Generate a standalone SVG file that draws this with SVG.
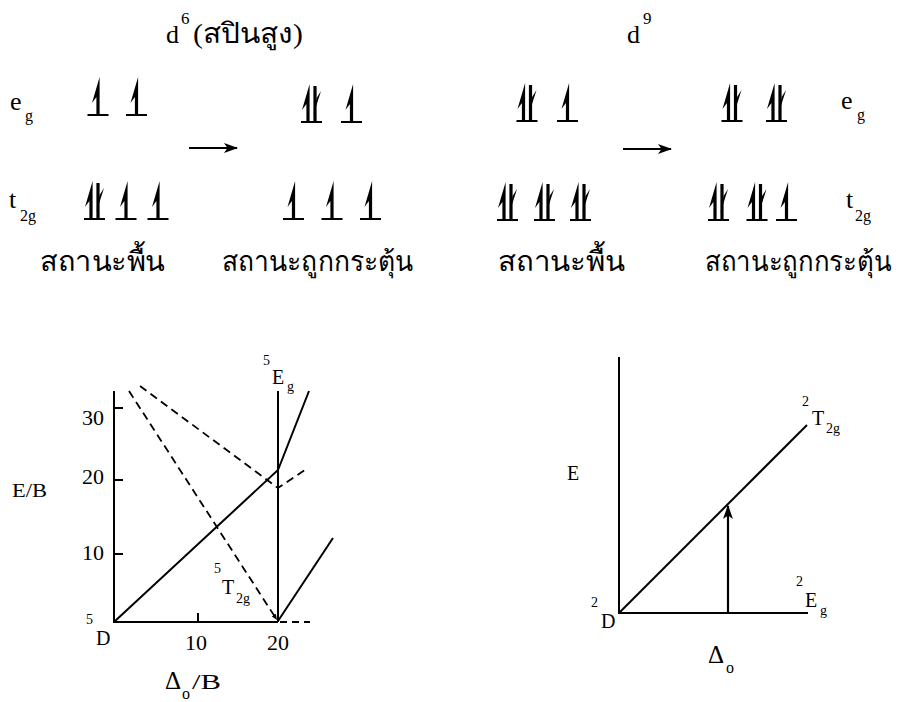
<svg xmlns="http://www.w3.org/2000/svg" width="902" height="702" viewBox="0 0 902 702" font-family="Liberation Serif, serif">
<style>
.th{font-size:28px}
.lab{font-size:20px}
.big{font-size:26px}
.sup{font-size:14px}
.sub{font-size:16px}
.ln{stroke:#000;stroke-width:2;fill:none}
.dash{stroke:#000;stroke-width:1.8;fill:none;stroke-dasharray:8,5}
.orb{stroke:#000;stroke-width:2}
</style>
<defs>
<polygon id="up" points="1.6,0 1.6,-38 -6,-12 -1.6,-18 -1.6,0"/>
<g id="dn">
<rect x="-1.6" y="-36" width="3.2" height="36"/>
<polygon points="-1.6,-7 6,-31 1.6,-24"/>
</g>
<g id="s"><line class="orb" x1="-10.5" y1="0" x2="10.5" y2="0"/><use href="#up"/></g>
<g id="p"><line class="orb" x1="-10.5" y1="0" x2="10.5" y2="0"/><use href="#up" x="-3.5"/><use href="#dn" x="3.5"/></g>
<marker id="ah" viewBox="0 0 14 10" refX="13" refY="5" markerWidth="14" markerHeight="10" markerUnits="userSpaceOnUse" orient="auto">
<path d="M0,0 L14,5 L0,10 L3.5,5 Z" fill="#000"/>
</marker>
<marker id="ahs" viewBox="0 0 10 8" refX="10" refY="4" markerWidth="6" markerHeight="5" markerUnits="userSpaceOnUse" orient="auto">
<path d="M0,0 L10,4 L0,8 Z" fill="#000"/>
</marker>
</defs>

<g id="title-d6" font-family="Liberation Serif, serif">
<text class="big" x="166" y="43">d</text>
<text x="181" y="24" font-size="17">6</text>
<text class="th" x="193" y="43" font-size="26" textLength="110" lengthAdjust="spacingAndGlyphs">(สปินสูง)</text>
</g>
<g id="title-d9" font-family="Liberation Serif, serif">
<text class="big" x="627" y="43">d</text>
<text x="643" y="24" font-size="17">9</text>
</g>

<g id="label-eg-left" font-family="Liberation Serif, serif"><text class="big" x="10" y="110" font-size="28">e</text><text class="sub" x="25" y="121">g</text></g>
<g id="label-t2g-left" font-family="Liberation Serif, serif"><text class="big" x="9" y="208" font-size="28">t</text><text class="sub" x="20" y="221">2g</text></g>
<g id="label-eg-right" font-family="Liberation Serif, serif"><text class="big" x="841" y="109" font-size="28">e</text><text class="sub" x="857" y="120">g</text></g>
<g id="label-t2g-right" font-family="Liberation Serif, serif"><text class="big" x="846" y="208" font-size="28">t</text><text class="sub" x="855" y="221">2g</text></g>

<g id="d6-ground">
<use href="#s" x="98" y="115"/>
<use href="#s" x="136.5" y="115"/>
<use href="#p" x="94.5" y="219"/>
<use href="#s" x="126" y="219"/>
<use href="#s" x="158" y="219"/>
</g>
<g id="d6-excited">
<use href="#p" x="311.5" y="122"/>
<use href="#s" x="351.5" y="122"/>
<use href="#s" x="293.5" y="219"/>
<use href="#s" x="332" y="219"/>
<use href="#s" x="370.5" y="219"/>
</g>
<g id="d9-ground">
<use href="#p" x="527" y="121"/>
<use href="#s" x="567.5" y="121"/>
<use href="#p" x="507.5" y="220"/>
<use href="#p" x="544.5" y="220"/>
<use href="#p" x="580.5" y="220"/>
</g>
<g id="d9-excited">
<use href="#p" x="732" y="121"/>
<use href="#p" x="776.5" y="121"/>
<use href="#p" x="718.5" y="220"/>
<use href="#p" x="757" y="220"/>
<use href="#s" x="786.5" y="220"/>
</g>

<g id="state-labels" font-family="Liberation Serif, serif">
<text class="th" x="40" y="271" textLength="125" lengthAdjust="spacingAndGlyphs">สถานะพื้น</text>
<text class="th" x="222" y="271" textLength="191" lengthAdjust="spacingAndGlyphs">สถานะถูกกระตุ้น</text>
<text class="th" x="498" y="271" textLength="127" lengthAdjust="spacingAndGlyphs">สถานะพื้น</text>
<text class="th" x="705" y="271" textLength="186" lengthAdjust="spacingAndGlyphs">สถานะถูกกระตุ้น</text>
</g>

<g id="graph-left" font-family="Liberation Serif, serif">
<line class="ln" x1="114" y1="391" x2="114" y2="622"/>
<line class="ln" x1="113" y1="622" x2="278" y2="622"/>
<line class="dash" x1="280" y1="622" x2="310" y2="622" style="stroke-dasharray:7,5"/>
<line class="ln" x1="278" y1="391" x2="278" y2="622"/>
<line class="ln" x1="114" y1="408" x2="123" y2="408"/>
<line class="ln" x1="114" y1="480" x2="123" y2="480"/>
<line class="ln" x1="114" y1="554" x2="123" y2="554"/>
<line class="ln" x1="198" y1="613" x2="198" y2="622"/>
<polyline class="ln" points="114,622 278,470 309,391"/>
<line class="ln" x1="278" y1="621" x2="333" y2="538"/>
<line class="dash" x1="129" y1="391" x2="277" y2="620" marker-end="url(#ahs)"/>
<polyline class="dash" points="140,386 278,488 308,468"/>
<text class="lab" x="82" y="425" textLength="22" lengthAdjust="spacingAndGlyphs">30</text>
<text class="lab" x="82" y="484" textLength="22" lengthAdjust="spacingAndGlyphs">20</text>
<text class="lab" x="82" y="560" textLength="22" lengthAdjust="spacingAndGlyphs">10</text>
<text x="12" y="497" font-size="19" textLength="35" lengthAdjust="spacingAndGlyphs">E/B</text>
<text class="lab" x="185" y="650" textLength="22" lengthAdjust="spacingAndGlyphs">10</text>
<text class="lab" x="267" y="650" textLength="22" lengthAdjust="spacingAndGlyphs">20</text>
<text class="sup" x="86" y="624">5</text>
<text class="lab" x="96" y="645">D</text>
<text class="sup" x="263" y="365">5</text>
<text class="lab" x="272" y="384">E</text>
<text x="287" y="391" font-size="14">g</text>
<text class="sup" x="214" y="573">5</text>
<text class="lab" x="222" y="594">T</text>
<text x="236" y="603" font-size="14">2g</text>
<text x="165" y="689" font-size="25">Δ</text>
<text x="182" y="699" font-size="16">o</text>
<text x="192" y="689" font-size="21" textLength="29" lengthAdjust="spacingAndGlyphs">/B</text>
</g>

<g id="graph-right" font-family="Liberation Serif, serif">
<line class="ln" x1="619" y1="357" x2="619" y2="613"/>
<line class="ln" x1="618" y1="613" x2="808" y2="613"/>
<line class="ln" x1="619" y1="613" x2="807" y2="425"/>
<line class="ln" x1="728" y1="613" x2="728" y2="506" marker-end="url(#ah)" style="stroke-width:2.2"/>
<text class="lab" x="567" y="480">E</text>
<text class="sup" x="591" y="607">2</text>
<text class="lab" x="601" y="628">D</text>
<text class="sup" x="796" y="586">2</text>
<text class="lab" x="805" y="607">E</text>
<text x="820" y="615" font-size="14">g</text>
<text class="sup" x="802" y="406">2</text>
<text class="lab" x="812" y="425">T</text>
<text x="826" y="433" font-size="14">2g</text>
<text x="708" y="663" font-size="25">Δ</text>
<text x="726" y="673" font-size="16">o</text>
</g>

<g id="connectors">
<line class="ln" x1="189" y1="148" x2="237" y2="148" marker-end="url(#ah)"/>
<line class="ln" x1="623" y1="149" x2="671" y2="149" marker-end="url(#ah)"/>
</g>
</svg>
